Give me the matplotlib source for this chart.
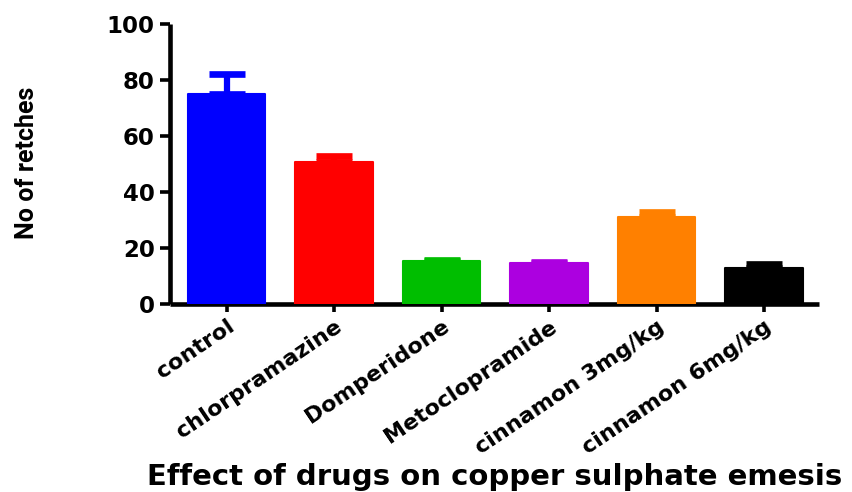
import matplotlib
matplotlib.use("Agg")
import matplotlib.pyplot as plt
from matplotlib.font_manager import FontProperties

# Mean number of retches per treatment group with upper SEM
groups = ["control", "chlorpramazine", "Domperidone", "Metoclopramide",
          "cinnamon 3mg/kg", "cinnamon 6mg/kg"]
means = [75.0, 50.8, 15.4, 14.5, 31.0, 12.8]
sem = [7.3, 2.1, 0.3, 0.3, 1.7, 1.5]
colors = ["#0000FF", "#FF0000", "#00BE00", "#AC00E0", "#FF8000", "#000000"]
yticks = [0, 20, 40, 60, 80, 100]

fig = plt.figure(figsize=(8.52, 4.92), dpi=100)
ax = fig.add_axes([170 / 852, (492 - 303.8) / 492, 649 / 852, 279.8 / 492])

x = list(range(len(groups)))
ax.bar(x, means, width=0.72, color=colors, edgecolor=colors, linewidth=1.5,
       joinstyle="round", zorder=3)
for xi, m, e, c in zip(x, means, sem, colors):
    ax.errorbar(xi, m, yerr=[[0], [e]], fmt="none", ecolor=c, elinewidth=4.5,
                capsize=13, capthick=4.8, zorder=2)

ax.set_xlim(-0.5256, 5.511)
ax.set_ylim(0, 100)
ax.set_yticks(yticks)
ax.set_xticks(x)

for side in ("top", "right"):
    ax.spines[side].set_visible(False)
for side in ("left", "bottom"):
    ax.spines[side].set_linewidth(3.3)
    ax.spines[side].set_capstyle("butt")

ax.tick_params(axis="y", length=7, width=2.6, pad=4, labelsize=16.5)
ax.tick_params(axis="x", length=6, width=2.6, pad=3)
for lab in ax.get_yticklabels():
    lab.set_fontweight("bold")
    lab.set_family("DejaVu Sans")

ax.set_xticklabels(groups, rotation=34, ha="right", va="top",
                   rotation_mode="anchor", fontsize=16, fontweight="bold",
                   family="DejaVu Sans")

ylab_font = FontProperties(family=["Roboto", "DejaVu Sans"],
                           weight="bold", size=18)
fig.text(27 / 852, 1 - 163 / 492, "No of retches", rotation=90,
         ha="center", va="center", fontproperties=ylab_font)
fig.text(494.5 / 852, 1 - 485 / 492, "Effect of drugs on copper sulphate emesis",
         ha="center", va="baseline", fontsize=21, fontweight="bold",
         family="DejaVu Sans")

fig.savefig("out.png", dpi=100)
